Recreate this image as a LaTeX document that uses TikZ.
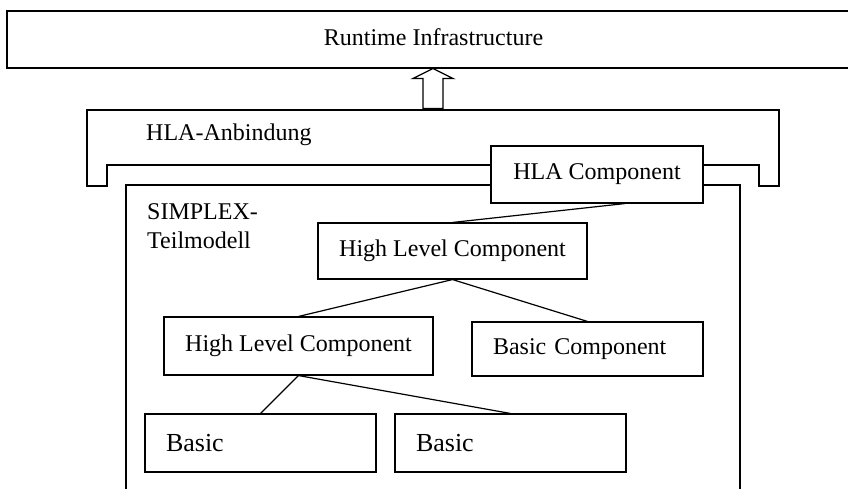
\documentclass[tikz,border=0pt]{standalone}
\usepackage{fontspec}
\setmainfont{Liberation Serif}
\usepackage{tikz}
\usetikzlibrary{positioning,calc}
\tikzset{
          frame/.style={draw=black,line width=1.8pt},
          comp/.style={
            rectangle,draw=black,line width=1.1pt,fill=white,
            inner sep=0pt,font=\fontsize{24}{29}\selectfont
          },
          basicbox/.style={comp,text width=189pt,align=left,inner xsep=21pt},
          link/.style={draw=black,line width=1.2pt},
          texto/.style={font=\fontsize{24}{29}\selectfont,inner sep=0pt},
          bigtext/.style={font=\fontsize{26}{31}\selectfont}
        }

\begin{document}
\begin{tikzpicture}[x=1pt,y=-1pt]
            \useasboundingbox (0,0) rectangle (848,488);

            \node[comp,frame,minimum width=853pt,minimum height=57pt,
              text height=16pt,text depth=5pt] (rti) at (433.5,39.5)
              {Runtime Infrastructure};

            % HLA-Anbindung
            \draw[frame] (87,110) -- (779,110) -- (779,186) -- (759,186)
              -- (759,165) -- (107,165) -- (107,186) -- (87,186) -- cycle;
            \node[texto,anchor=base west] (anbindung) at (146,140)
              {HLA-Anbindung};

            \coordinate (tip) at (433,68.5);
            \draw[line width=1.3pt,fill=white] (tip) -- ++(20,10)
              -- ++(-10,0) -- ++(0,30) -- ++(-20,0) -- ++(0,-30)
              -- ++(-10,0) -- cycle;

            % SIMPLEX
            \draw[frame] (126,495) -- (126,185) -- (740,185) -- (740,495);
            \node[texto,align=left,anchor=north west] (simplex) at (147,203)
              {SIMPLEX-\\Teilmodell};

            \node[comp,minimum width=212pt,minimum height=57pt] (hla)
              at (597,174.5) {HLA Component};
            \node[comp,minimum width=269pt,minimum height=56pt] (hlc1)
              at (452.5,251) {High Level Component};
            \node[comp,minimum width=269pt,minimum height=58pt] (hlc2)
              at (298.5,346) {High Level Component};
            \node[basicbox,minimum height=54pt] (bcomp) at (587.5,349)
              {Basic Component};
            \node[basicbox,bigtext,minimum height=58pt] (basic1)
              at (260.5,443) {Basic};
            \node[basicbox,bigtext,minimum height=58pt] (basic2)
              at (510.5,443) {Basic};

            \draw[link] ([xshift=28pt]hla.south) -- (hlc1.north);
            \draw[link] (hlc1.south) -- (hlc2.north);
            \draw[link] (hlc1.south) -- (bcomp.north);
            \draw[link] (hlc2.south) -- (basic1.north);
            \draw[link] (hlc2.south) -- (basic2.north);

\end{tikzpicture}
\end{document}
